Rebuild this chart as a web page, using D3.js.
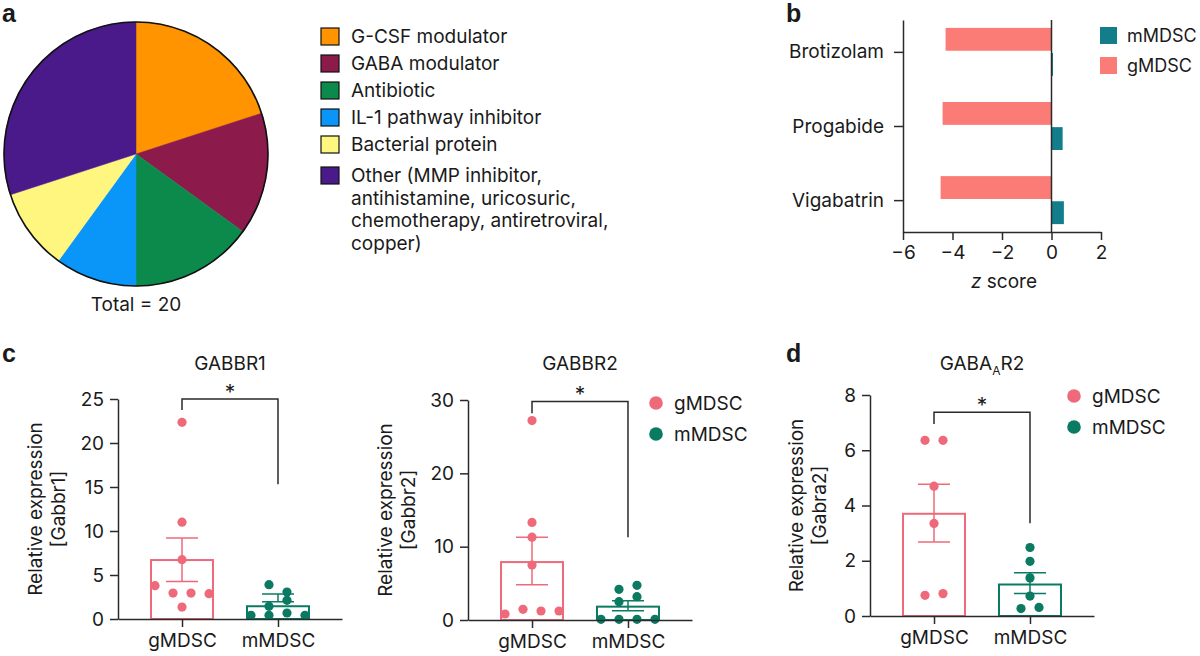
<!DOCTYPE html>
<html>
<head>
<meta charset="utf-8">
<script src="https://cdn.jsdelivr.net/npm/d3@7"></script>
<style>
  html, body { margin: 0; padding: 0; background: #fff; }
  svg text { font-family: Inter, "Open Sans", sans-serif; fill: #1a1a1a; }
  .panel { font-family: "Liberation Sans", Arial, sans-serif !important; font-weight: bold; }
</style>
</head>
<body>
<svg id="chart" width="1200" height="656"></svg>
<script>
// ---------------- DATA ----------------
// Panel a: drug classes
const pieCategories = ["G-CSF modulator", "GABA modulator", "Antibiotic", "IL-1 pathway inhibitor", "Bacterial protein", "Other"];
const pieCounts = [4, 3, 3, 2, 2, 6];
const pieLegendLines = [
  ["G-CSF modulator"],
  ["GABA modulator"],
  ["Antibiotic"],
  ["IL-1 pathway inhibitor"],
  ["Bacterial protein"],
  ["Other (MMP inhibitor,", "antihistamine, uricosuric,", "chemotherapy, antiretroviral,", "copper)"]
];
const pieTotalLabel = "Total = 20";

// Panel b: z scores
const drugs = ["Brotizolam", "Progabide", "Vigabatrin"];
const zSeries = ["gMDSC", "mMDSC"];
const zGMDSC = [-4.28, -4.40, -4.48];
const zMMDSC = [0.06, 0.45, 0.50];
const zTicks = [-6, -4, -2, 0, 2];

// Panels c, d: relative expression
const groups = ["gMDSC", "mMDSC"];

const gabbr1G = [22.35, 11.0, 6.74, 3.79, 2.95, 2.95, 2.88, 1.36];
const gabbr1M = [3.9, 3.07, 1.44, 2.12, 0.42, 0.42, 0.68, 0.42];
const gabbr1Mean = [6.7, 1.45];
const gabbr1Lo = [4.25, 1.97];
const gabbr1Hi = [9.2, 2.85];
const gabbr1Ticks = [0, 5, 10, 15, 20, 25];
const gabbr1Bracket = [25, 23.75, 15.3];

const gabbr2G = [27.2, 13.3, 11.3, 7.5, 0.82, 1.45, 1.23, 1.23];
const gabbr2M = [4.18, 4.73, 2.5, 3.18, 0.09, 0.09, 0.09, 0.09];
const gabbr2Mean = [7.9, 1.82];
const gabbr2Lo = [4.8, 1.27];
const gabbr2Hi = [11.3, 2.64];
const gabbr2Ticks = [0, 10, 20, 30];
const gabbr2Bracket = [29.8, 28.2, 11.3];

const gabra2G = [6.36, 6.36, 4.7, 3.35, 0.75, 0.81];
const gabra2M = [2.48, 1.98, 1.38, 0.72, 0.27, 0.31];
const gabra2Mean = [3.7, 1.14];
const gabra2Lo = [2.68, 0.81];
const gabra2Hi = [4.77, 1.57];
const gabra2Ticks = [0, 2, 4, 6, 8];
const gabra2Bracket = [7.38, 6.95, 3.36];

// ---------------- STYLE ----------------
const pieColors = ["#FF9400", "#8C1A4B", "#0C8A4C", "#0A95F8", "#FFF680", "#4A1A8A"];
const bColors = { gMDSC: "#FB7C77", mMDSC: "#137D8C" };
const cColors = { gMDSC: "#EE6A7B", mMDSC: "#0B7A62" };
const axisColor = "#2a2a2a";
const FS = 19;

const svg = d3.select("#chart");

// Panel letters
[["a", 2, 22], ["b", 786, 22], ["c", 2, 362], ["d", 786, 362]].forEach(([t, x, y]) => {
  svg.append("text").attr("class", "panel").attr("x", x).attr("y", y)
    .attr("font-size", 25).attr("font-weight", "bold").text(t);
});

// ---------------- PANEL A ----------------
{
  const cx = 136, cy = 154, r = 132;
  const g = svg.append("g").attr("transform", `translate(${cx},${cy})`);
  const pie = d3.pie().sort(null).value(d => d)(pieCounts);
  const arc = d3.arc().innerRadius(0).outerRadius(r);
  g.selectAll("path.slice").data(pie).join("path")
    .attr("d", arc).attr("fill", (d, i) => pieColors[i])
    .attr("stroke", (d, i) => pieColors[i]).attr("stroke-width", 0.5);
  g.append("circle").attr("r", r).attr("fill", "none").attr("stroke", "#111").attr("stroke-width", 1.6);
  svg.append("text").attr("x", cx).attr("y", 311).attr("text-anchor", "middle")
    .attr("font-size", FS).text(pieTotalLabel);

  // legend
  const lx = 321, rowBase = [43, 70, 97, 124, 151, 182];
  pieLegendLines.forEach((lines, i) => {
    svg.append("rect").attr("x", lx).attr("y", rowBase[i] - 15).attr("width", 18).attr("height", 17)
      .attr("fill", pieColors[i]).attr("stroke", "#111").attr("stroke-width", 1.2);
    const t = svg.append("text").attr("x", lx + 30).attr("y", rowBase[i]).attr("font-size", FS);
    lines.forEach((ln, j) => {
      t.append("tspan").attr("x", lx + 30).attr("dy", j === 0 ? 0 : 22.5).text(ln);
    });
  });
}

// ---------------- PANEL B ----------------
{
  const x = d3.scaleLinear().domain([-6, 2]).range([903, 1101]);
  const y = d3.scalePoint().domain(drugs).range([20, 232]).padding(0.43);
  const sub = d3.scaleBand().domain(zSeries).range([-24, 24]).paddingInner(0.09);
  const vals = { gMDSC: zGMDSC, mMDSC: zMMDSC };

  zSeries.forEach(s => {
    svg.append("g").selectAll("rect").data(drugs).join("rect")
      .attr("x", (d, i) => x(Math.min(0, vals[s][i])))
      .attr("width", (d, i) => Math.abs(x(vals[s][i]) - x(0)))
      .attr("y", d => y(d) + sub(s))
      .attr("height", sub.bandwidth())
      .attr("fill", bColors[s]);
  });

  // zero line
  svg.append("line").attr("x1", x(0)).attr("x2", x(0)).attr("y1", 20).attr("y2", 232)
    .attr("stroke", axisColor).attr("stroke-width", 1.5);

  const ax = svg.append("g").attr("transform", "translate(0,232)")
    .call(d3.axisBottom(x).tickValues(zTicks).tickSize(8).tickSizeOuter(0).tickPadding(6));
  const ay = svg.append("g").attr("transform", "translate(903,0)")
    .call(d3.axisLeft(y).tickSize(9).tickSizeOuter(0).tickPadding(10));
  [ax, ay].forEach(a => {
    a.selectAll("path,line").attr("stroke", axisColor).attr("stroke-width", 1.5);
    a.selectAll("text").attr("font-size", FS).attr("font-family", "Inter, sans-serif").attr("fill", "#1a1a1a");
  });

  const zt = svg.append("text").attr("x", 1004).attr("y", 288).attr("text-anchor", "middle").attr("font-size", FS);
  zt.append("tspan").attr("font-style", "italic").text("z");
  zt.append("tspan").text(" score");

  // legend (mMDSC first)
  ["mMDSC", "gMDSC"].forEach((s, i) => {
    svg.append("rect").attr("x", 1100).attr("y", 27 + i * 30).attr("width", 17).attr("height", 17).attr("fill", bColors[s]);
    svg.append("text").attr("x", 1127).attr("y", 42 + i * 30).attr("font-size", 18).text(s);
  });
}

// ---------------- PANELS C / D ----------------
function swarmOffsets(values, yScale, D, s) {
  const idx = values.map((v, i) => i).sort((a, b) => values[b] - values[a] || a - b);
  const off = new Array(values.length).fill(0);
  let grp = [];
  const flush = () => {
    const g = grp.slice().sort((a, b) => a - b);
    g.forEach((k, j) => { off[k] = (j - (g.length - 1) / 2) * s; });
    grp = [];
  };
  idx.forEach(k => {
    if (grp.length && Math.abs(yScale(values[k]) - yScale(values[grp[0]])) >= D) flush();
    grp.push(k);
  });
  if (grp.length) flush();
  return off;
}

function dotPlot(cfg) {
  const x = d3.scalePoint().domain(groups).range([cfg.x0, cfg.x0 + 224]).padding(0.667);
  const y = d3.scaleLinear().domain([0, cfg.max]).range([cfg.yb, cfg.yt]);
  const g = svg.append("g");
  const barW = 62, capW = 32, r = 4.6;
  const series = [cfg.gv, cfg.mv];

  // bars
  g.selectAll("rect.bar").data(groups).join("rect")
    .attr("x", d => x(d) - barW / 2).attr("width", barW)
    .attr("y", (d, i) => y(cfg.mean[i])).attr("height", (d, i) => y(0) - y(cfg.mean[i]))
    .attr("fill", "#fff").attr("stroke", d => cColors[d]).attr("stroke-width", 2);

  // error bars
  groups.forEach((d, i) => {
    const col = cColors[d];
    const cx = x(d);
    g.append("line").attr("x1", cx).attr("x2", cx).attr("y1", y(cfg.lo[i])).attr("y2", y(cfg.hi[i]))
      .attr("stroke", col).attr("stroke-width", 1.5);
    [cfg.lo[i], cfg.hi[i]].forEach(v => {
      g.append("line").attr("x1", cx - capW / 2).attr("x2", cx + capW / 2).attr("y1", y(v)).attr("y2", y(v))
        .attr("stroke", col).attr("stroke-width", 1.5);
    });
  });

  // dots
  groups.forEach((d, i) => {
    const vals = series[i];
    const off = swarmOffsets(vals, y, 10, 18);
    g.append("g").selectAll("circle").data(vals).join("circle")
      .attr("cx", (v, k) => x(d) + off[k]).attr("cy", v => y(v)).attr("r", r)
      .attr("fill", cColors[d]);
  });

  // axes
  const ay = g.append("g").attr("transform", `translate(${cfg.x0},0)`)
    .call(d3.axisLeft(y).tickValues(cfg.ticks).tickSize(8).tickSizeOuter(0).tickPadding(6));
  const ax = g.append("g").attr("transform", `translate(0,${cfg.yb})`)
    .call(d3.axisBottom(x).tickSize(8).tickSizeOuter(0).tickPadding(7));
  [ax, ay].forEach(a => {
    a.selectAll("path,line").attr("stroke", axisColor).attr("stroke-width", 1.5);
    a.selectAll("text").attr("font-size", FS).attr("font-family", "Inter, sans-serif").attr("fill", "#1a1a1a");
  });

  // bracket
  const [bt, bl, br] = cfg.bracket;
  const xa = x(groups[0]), xb = x(groups[1]);
  g.append("path")
    .attr("d", `M${xa},${y(bl)}V${y(bt)}H${xb}V${y(br)}`)
    .attr("fill", "none").attr("stroke", axisColor).attr("stroke-width", 1.5);
  g.append("text").attr("x", (xa + xb) / 2).attr("y", y(bt) + 1).attr("text-anchor", "middle")
    .attr("font-size", 21).text("*");

  // title
  const tt = g.append("text").attr("x", (xa + xb) / 2).attr("y", 370).attr("text-anchor", "middle").attr("font-size", FS);
  let prevSub = false;
  cfg.title.forEach(([txt, isSub]) => {
    const ts = tt.append("tspan").text(txt);
    if (isSub) { ts.attr("font-size", 12).attr("dy", 5); prevSub = true; }
    else if (prevSub) { ts.attr("dy", -5); prevSub = false; }
  });

  // y label
  const ym = (cfg.yb + cfg.yt) / 2;
  const yl = g.append("text").attr("transform", `translate(${cfg.labX},${ym}) rotate(-90)`)
    .attr("text-anchor", "middle").attr("font-size", FS);
  yl.append("tspan").attr("x", 0).attr("y", 0).text("Relative expression");
  yl.append("tspan").attr("x", 0).attr("y", 23).text(cfg.ylab);

  // legend
  if (cfg.legend) {
    const [lx, ly] = cfg.legend;
    groups.forEach((d, i) => {
      g.append("circle").attr("cx", lx).attr("cy", ly + i * 31).attr("r", 6.8).attr("fill", cColors[d]);
      g.append("text").attr("x", lx + 18).attr("y", ly + i * 31 + 7).attr("font-size", FS).text(d);
    });
  }
}

dotPlot({ x0: 118, yb: 619, yt: 399, max: 25, ticks: gabbr1Ticks, gv: gabbr1G, mv: gabbr1M,
  mean: gabbr1Mean, lo: gabbr1Lo, hi: gabbr1Hi, bracket: gabbr1Bracket,
  title: [["GABBR1", false]], ylab: "[Gabbr1]", labX: 42, legend: null });

dotPlot({ x0: 468, yb: 620, yt: 400, max: 30, ticks: gabbr2Ticks, gv: gabbr2G, mv: gabbr2M,
  mean: gabbr2Mean, lo: gabbr2Lo, hi: gabbr2Hi, bracket: gabbr2Bracket,
  title: [["GABBR2", false]], ylab: "[Gabbr2]", labX: 392, legend: [656, 403] });

dotPlot({ x0: 870, yb: 616, yt: 395, max: 8, ticks: gabra2Ticks, gv: gabra2G, mv: gabra2M,
  mean: gabra2Mean, lo: gabra2Lo, hi: gabra2Hi, bracket: gabra2Bracket,
  title: [["GABA", false], ["A", true], ["R2", false]], ylab: "[Gabra2]", labX: 803, legend: [1074, 396] });
</script>
</body>
</html>
